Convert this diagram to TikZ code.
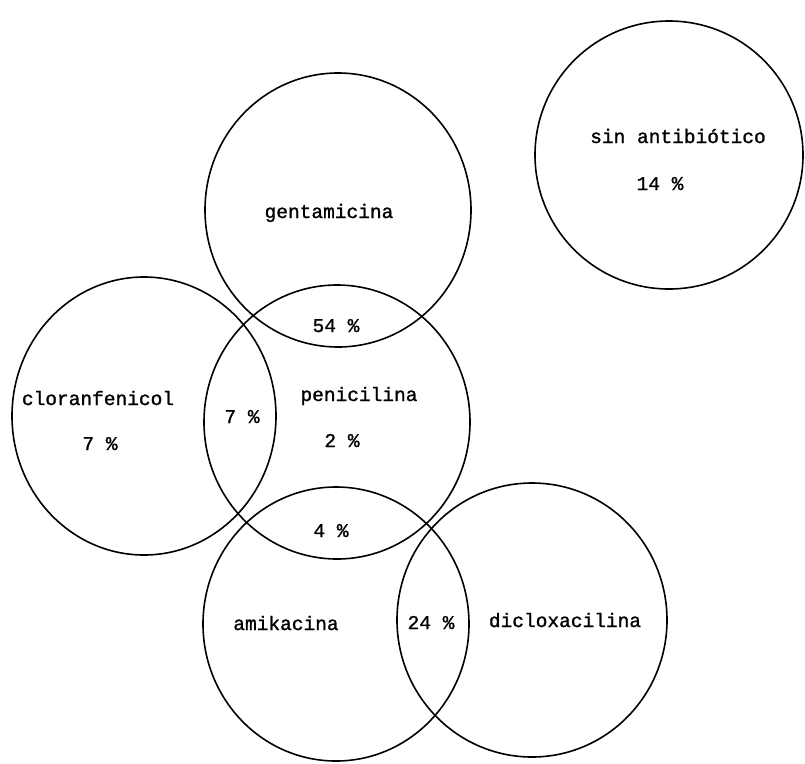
\documentclass[tikz,border=0pt]{standalone}
\usepackage{fontspec}
\newfontfamily\typew[FakeBold=1.2]{Liberation Mono}
\usetikzlibrary{shapes.geometric}
\tikzset{
  setcircle/.style={ellipse, draw=black, line width=1.6pt, inner sep=0pt,
    minimum width=266pt, minimum height=274pt},
  lbl/.style={anchor=base, inner sep=0pt, font=\typew\fontsize{19.5pt}{22pt}\selectfont}
}
\begin{document}
\begin{tikzpicture}[x=1pt,y=-1pt]
\useasboundingbox (0,0) rectangle (805,763);
% sets
\node[setcircle, minimum width=268pt, minimum height=268pt] (sin) at (669,155) {};
\node[setcircle] (gent) at (338,210) {};
\node[setcircle, minimum width=264pt, minimum height=278pt] (clor) at (144,416) {};
\node[setcircle] (peni) at (337,422) {};
\node[setcircle] (amik) at (336,624) {};
\node[setcircle, minimum width=270pt] (diclo) at (532,620) {};
% labels
\node[lbl] (tsin) at (678,143) {sin antibiótico};
\node[lbl] (psin) at (660,190) {14 \%};
\node[lbl] (tgent) at (329,218) {gentamicina};
\node[lbl] (pgp) at (336,332) {54 \%};
\node[lbl] (tclor) at (98,405) {cloranfenicol};
\node[lbl] (pclor) at (100,450) {7 \%};
\node[lbl] (pcp) at (242,423) {7 \%};
\node[lbl] (tpeni) at (359,401) {penicilina};
\node[lbl] (ppeni) at (342,447) {2 \%};
\node[lbl] (pap) at (331,537) {4 \%};
\node[lbl] (tamik) at (286,630) {amikacina};
\node[lbl] (pad) at (431,629) {24 \%};
\node[lbl] (tdiclo) at (565,627) {dicloxacilina};
\end{tikzpicture}
\end{document}
